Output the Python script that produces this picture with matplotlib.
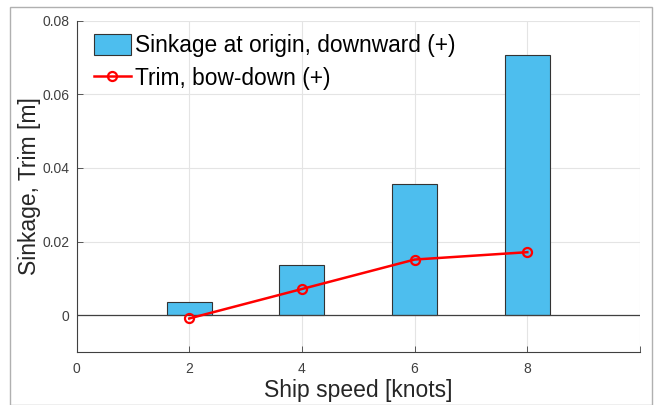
import numpy as np
import matplotlib.pyplot as plt
from matplotlib.patches import Rectangle

plt.rcParams['font.family'] = ['Liberation Sans', 'DejaVu Sans']

# speeds and results
speed = [2, 4, 6, 8]
sinkage = [0.0035, 0.0136, 0.0356, 0.0707]
trim = [-0.0009, 0.0071, 0.0151, 0.0171]

fig = plt.figure(figsize=(6.57, 4.05), dpi=100)
# light frame round the whole figure
fig.patches.append(Rectangle((10 / 657, 0.0), 642 / 657, 398 / 405,
                             transform=fig.transFigure, fill=False,
                             edgecolor='#b0b0b0', linewidth=1.0))

ax = fig.add_axes([76.5 / 657, 1 - 352 / 405, (640 - 76.5) / 657, (352 - 20.5) / 405])

bars = ax.bar(speed, sinkage, width=0.8, color='#4DBEEE', edgecolor='#333333',
              linewidth=0.8, label='Sinkage at origin, downward (+)', zorder=3)
line, = ax.plot(speed, trim, '-o', color='#ff0000', linewidth=1.8, markersize=6.5,
                markerfacecolor='none', markeredgewidth=1.6,
                label='Trim, bow-down (+)', zorder=4)
ax.axhline(0, color='#404040', linewidth=0.9, zorder=3.5)

ax.set_xlim(0, 10)
ax.set_ylim(-0.01, 0.08)
ax.set_xticks([0, 2, 4, 6, 8, 10])
ax.set_xticklabels(['0', '2', '4', '6', '8', ''])
ax.set_yticks([0, 0.02, 0.04, 0.06, 0.08])
ax.set_yticklabels(['0', '0.02', '0.04', '0.06', '0.08'])
ax.tick_params(direction='in', length=4, width=0.6, labelsize=10,
               colors='#404040')
ax.tick_params(axis='y', pad=5)
ax.tick_params(axis='x', pad=7)

ax.grid(True, color='#e4e4e4', linewidth=0.8, zorder=0)
ax.set_axisbelow(True)
for s in ['top', 'right']:
    ax.spines[s].set_visible(False)
for s in ['left', 'bottom']:
    ax.spines[s].set_color('#404040')
    ax.spines[s].set_linewidth(0.8)

ax.set_xlabel('Ship speed [knots]', fontsize=16.5, color='#262626', labelpad=2)
ax.set_ylabel('Sinkage, Trim [m]', fontsize=16.5, color='#262626', labelpad=1)

leg = ax.legend([bars, line], [bars.get_label(), line.get_label()],
                loc='upper left', fontsize=16.4, frameon=False,
                handlelength=1.62, handleheight=1.0, handletextpad=0.2,
                labelspacing=0.42, borderpad=0, borderaxespad=0,
                bbox_to_anchor=(0.031, 0.958))

fig.savefig('out.png', dpi=100)
